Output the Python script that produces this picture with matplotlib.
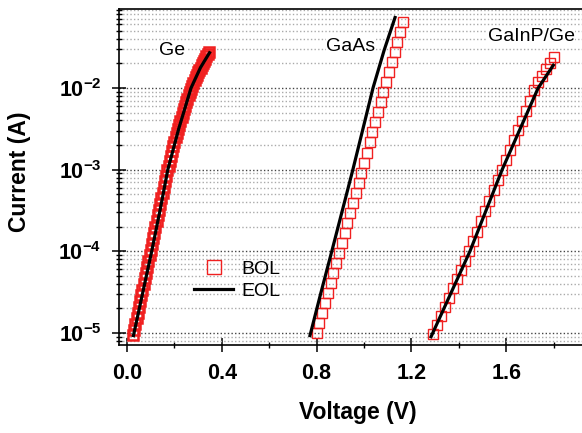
import numpy as np
import matplotlib
matplotlib.use("Agg")
import matplotlib.pyplot as plt
from matplotlib.ticker import FixedLocator, LogLocator, NullFormatter, FixedFormatter

plt.rcParams['font.family'] = 'Liberation Sans'
plt.rcParams['mathtext.fontset'] = 'custom'
plt.rcParams['mathtext.rm'] = 'Liberation Sans:bold'
plt.rcParams['mathtext.bf'] = 'Liberation Sans:bold'

# Ge cell, beginning of life (dense measured points)
ge_bol_v = [0.025, 0.030, 0.035, 0.040, 0.045, 0.050, 0.055, 0.060, 0.065, 0.070,
            0.075, 0.080, 0.085, 0.090, 0.095, 0.100, 0.105, 0.110, 0.115, 0.120,
            0.125, 0.130, 0.135, 0.140, 0.145, 0.150, 0.155, 0.160, 0.165, 0.170,
            0.175, 0.180, 0.185, 0.190, 0.195, 0.200, 0.205, 0.210, 0.215, 0.220,
            0.225, 0.230, 0.235, 0.240, 0.245, 0.250, 0.255, 0.260, 0.265, 0.270,
            0.275, 0.280, 0.285, 0.290, 0.295, 0.300, 0.305, 0.310, 0.315, 0.320,
            0.325, 0.330, 0.335, 0.340, 0.345]
ge_bol_i = [9.33e-6, 1.10e-5, 1.29e-5, 1.51e-5, 1.78e-5, 2.09e-5, 2.45e-5, 2.88e-5, 3.39e-5, 3.98e-5,
            4.68e-5, 5.50e-5, 6.46e-5, 7.59e-5, 8.91e-5, 1.05e-4, 1.23e-4, 1.45e-4, 1.70e-4, 2.00e-4,
            2.34e-4, 2.75e-4, 3.24e-4, 3.80e-4, 4.47e-4, 5.25e-4, 6.17e-4, 7.24e-4, 8.41e-4, 9.77e-4,
            1.12e-3, 1.29e-3, 1.48e-3, 1.70e-3, 1.93e-3, 2.19e-3, 2.48e-3, 2.82e-3, 3.16e-3, 3.55e-3,
            3.98e-3, 4.47e-3, 4.95e-3, 5.50e-3, 6.10e-3, 6.76e-3, 7.41e-3, 8.13e-3, 8.91e-3, 9.77e-3,
            1.06e-2, 1.15e-2, 1.24e-2, 1.35e-2, 1.45e-2, 1.55e-2, 1.66e-2, 1.78e-2, 1.91e-2, 2.04e-2,
            2.16e-2, 2.29e-2, 2.43e-2, 2.57e-2, 2.72e-2]
# Ge cell, end of life
ge_eol_v = [0.027, 0.066, 0.104, 0.139, 0.172, 0.218, 0.270, 0.310, 0.348]
ge_eol_i = [9.3e-6, 3.1e-5, 1.0e-4, 3.16e-4, 1.0e-3, 3.16e-3, 1.0e-2, 1.78e-2, 2.7e-2]

# GaAs cell
gaas_bol_v = [0.800, 0.812, 0.824, 0.835, 0.847, 0.859, 0.871, 0.882, 0.894, 0.906,
              0.918, 0.929, 0.941, 0.953, 0.965, 0.977, 0.988, 1.000, 1.012, 1.024,
              1.035, 1.047, 1.059, 1.071, 1.082, 1.094, 1.106, 1.118, 1.129, 1.141,
              1.153, 1.165]
gaas_bol_i = [1.00e-5, 1.33e-5, 1.76e-5, 2.33e-5, 3.10e-5, 4.11e-5, 5.45e-5, 7.23e-5, 9.60e-5, 1.27e-4,
              1.69e-4, 2.24e-4, 2.97e-4, 3.95e-4, 5.24e-4, 6.95e-4, 9.22e-4, 1.22e-3, 1.62e-3, 2.15e-3,
              2.86e-3, 3.79e-3, 5.03e-3, 6.68e-3, 8.86e-3, 1.18e-2, 1.56e-2, 2.07e-2, 2.75e-2, 3.64e-2,
              4.84e-2, 6.42e-2]
gaas_eol_v = [0.772, 0.818, 0.864, 0.909, 0.953, 0.996, 1.038, 1.085, 1.131]
gaas_eol_i = [9.3e-6, 3.1e-5, 1.0e-4, 3.2e-4, 1.0e-3, 3.2e-3, 1.0e-2, 2.9e-2, 7.3e-2]

# GaInP/Ge cell
gainp_bol_v = [1.290, 1.307, 1.324, 1.341, 1.358, 1.376, 1.393, 1.410, 1.427, 1.444,
               1.461, 1.478, 1.495, 1.512, 1.529, 1.547, 1.564, 1.581, 1.598, 1.615,
               1.632, 1.649, 1.666, 1.683, 1.700, 1.718, 1.735, 1.752, 1.769, 1.786,
               1.802]
gainp_bol_i = [9.77e-6, 1.26e-5, 1.62e-5, 2.09e-5, 2.69e-5, 3.55e-5, 4.57e-5, 5.89e-5, 7.59e-5, 1.00e-4,
               1.32e-4, 1.74e-4, 2.34e-4, 3.09e-4, 4.17e-4, 5.62e-4, 7.41e-4, 1.00e-3, 1.32e-3, 1.74e-3,
               2.29e-3, 3.02e-3, 3.98e-3, 5.25e-3, 6.92e-3, 9.33e-3, 1.17e-2, 1.41e-2, 1.70e-2, 2.00e-2,
               2.40e-2]
gainp_eol_v = [1.283, 1.447, 1.583, 1.735, 1.799]
gainp_eol_i = [9.0e-6, 1.0e-4, 1.0e-3, 1.0e-2, 1.9e-2]

cell_names = ["Ge", "GaAs", "GaInP/Ge"]
name_pos = [(0.19, 0.0284), (0.945, 0.0318), (1.705, 0.0432)]

x_major = [0.0, 0.4, 0.8, 1.2, 1.6]
x_labels = ["0.0", "0.4", "0.8", "1.2", "1.6"]
x_minor = [0.2, 0.6, 1.0, 1.4, 1.8]
y_major = [1e-5, 1e-4, 1e-3, 1e-2]
y_labels = [r"$\mathbf{10^{-5}}$", r"$\mathbf{10^{-4}}$", r"$\mathbf{10^{-3}}$", r"$\mathbf{10^{-2}}$"]

fig = plt.figure(figsize=(5.82, 4.33), dpi=100)
ax = fig.add_axes([119/582, 1-345/433, 1-119/582, 336/433])

red = '#f02020'
ms = 7.3
bol_sets = [(ge_bol_v, ge_bol_i), (gaas_bol_v, gaas_bol_i), (gainp_bol_v, gainp_bol_i)]
eol_sets = [(ge_eol_v, ge_eol_i), (gaas_eol_v, gaas_eol_i), (gainp_eol_v, gainp_eol_i)]
# the Ge set is so dense that its squares merge into a solid band
bol_mew = [1.8, 1.0, 1.0]
for k, (v, i) in enumerate(bol_sets):
    ax.plot(v, i, ls='none', marker='s', ms=ms, mfc='none', mec=red, mew=bol_mew[k],
            zorder=3)
for k, (v, i) in enumerate(eol_sets):
    ax.plot(v, i, color='black', lw=2.3, zorder=4)

ax.set_yscale('log')
ax.set_xlim(-0.034, 1.92)
ax.set_ylim(10**-5.147, 10**-1.033)

ax.xaxis.set_major_locator(FixedLocator(x_major))
ax.xaxis.set_major_formatter(FixedFormatter(x_labels))
ax.xaxis.set_minor_locator(FixedLocator(x_minor))
ax.yaxis.set_major_locator(FixedLocator(y_major))
ax.yaxis.set_major_formatter(FixedFormatter(y_labels))
ax.yaxis.set_minor_locator(LogLocator(base=10, subs=np.arange(2, 10), numticks=20))
ax.yaxis.set_minor_formatter(NullFormatter())

ax.tick_params(which='major', direction='inout', length=9.4, width=1.1, pad=8,
               labelsize=15.5, top=False, right=False)
ax.tick_params(which='minor', direction='inout', length=5, width=1.0, top=False, right=False)
for lab in ax.get_xticklabels():
    lab.set_fontweight('bold')

ax.grid(True, which='major', axis='y', color='#444444', ls=(0, (1, 1.6)), lw=1.0)
ax.grid(True, which='minor', axis='y', color='#aaaaaa', ls=(0, (1, 1.6)), lw=1.0)
ax.set_axisbelow(True)

for s in ['left', 'bottom', 'top']:
    ax.spines[s].set_linewidth(1.2)
ax.spines['right'].set_visible(False)

ax.set_xlabel('Voltage (V)', fontsize=16.5, fontweight='bold', va='top')
ax.xaxis.set_label_coords(0.516, -0.167)
ax.set_ylabel('Current (A)', fontsize=16.5, fontweight='bold')
ax.yaxis.set_label_coords(-0.19, 0.515)

for name, (x, y) in zip(cell_names, name_pos):
    ax.text(x, y, name, fontsize=14, ha='center', va='center', zorder=5,
            bbox=dict(facecolor='white', edgecolor='none', pad=0.5))

# legend entries: one square for BOL, one black line for EOL
bol_handle = plt.Line2D([], [], ls='none', marker='s', ms=ms, mfc='none', mec=red, mew=1.0)
eol_handle = plt.Line2D([], [], color='black', lw=2.3)
ax.legend([bol_handle, eol_handle], ['BOL', 'EOL'], loc='center',
          bbox_to_anchor=(0.255, 0.193), frameon=False, fontsize=14,
          handlelength=2.0, handletextpad=0.4, labelspacing=0.2, markerscale=1.3)

fig.savefig('out.png', dpi=100)
